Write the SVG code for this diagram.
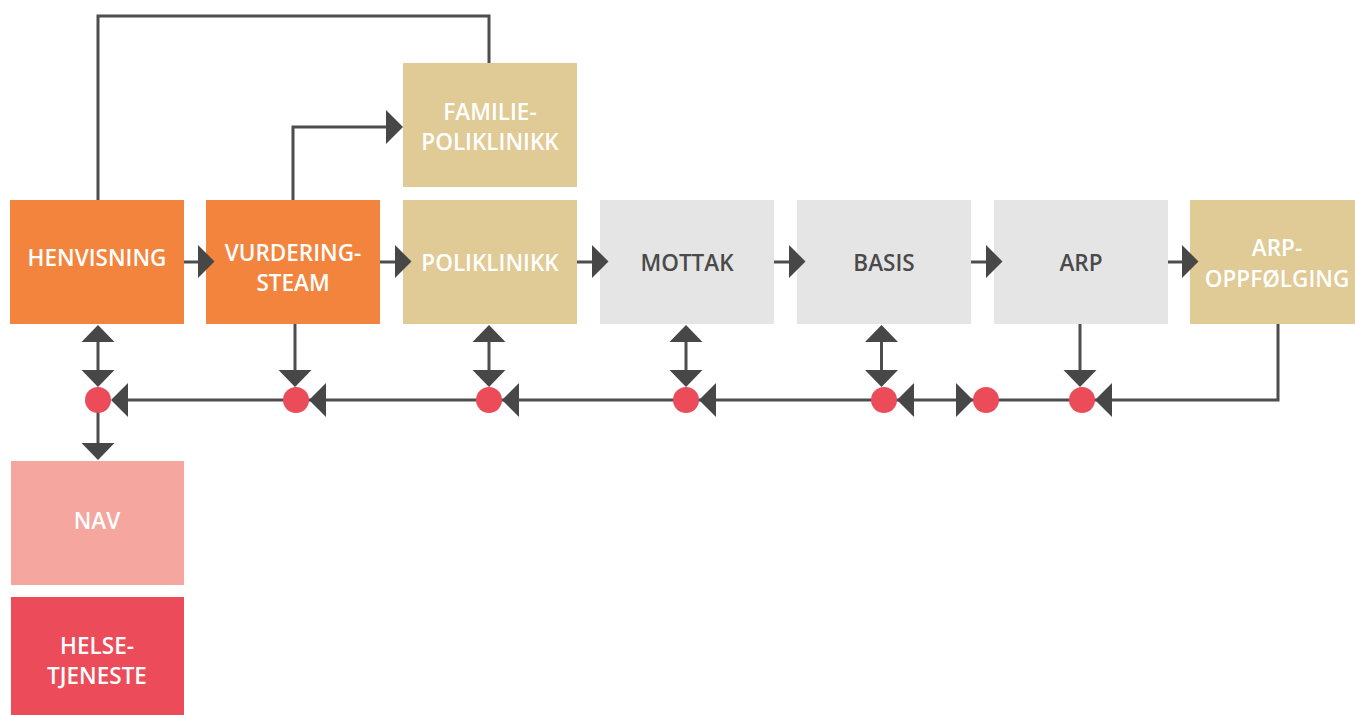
<svg xmlns="http://www.w3.org/2000/svg" width="1355" height="715" viewBox="0 0 1355 715">
<style>
.orange{fill:#F2843E}
.tan{fill:#E0CA96}
.gray{fill:#E5E5E5}
.nav{fill:#F5A69E}
.helse{fill:#EC4B5A}
.t{font-family:"Open Sans","Noto Sans","Liberation Sans",sans-serif;font-weight:600;font-size:22.5px;text-anchor:middle;fill:#FFFFFF}
.d{fill:#4A4A4A}
.ln{fill:none;stroke:#4D4D4D;stroke-width:3}
.ah{fill:#474747}
.dot{fill:#EC4B5A}
</style>
<rect width="1355" height="715" fill="#FFFFFF"/>
<g id="henvisning">
<rect class="orange" x="10" y="200" width="174" height="124"/>
<text class="t" x="97" y="266">HENVISNING</text>
</g>
<g id="vurderingsteam">
<rect class="orange" x="206" y="200" width="174" height="124"/>
<text class="t" x="293" y="261">VURDERING-</text>
<text class="t" x="293" y="291">STEAM</text>
</g>
<g id="familiepoliklinikk">
<rect class="tan" x="403" y="63" width="174" height="124"/>
<text class="t" x="490" y="120">FAMILIE-</text>
<text class="t" x="490" y="150">POLIKLINIKK</text>
</g>
<g id="poliklinikk">
<rect class="tan" x="403" y="200" width="174" height="124"/>
<text class="t" x="490" y="271">POLIKLINIKK</text>
</g>
<g id="mottak">
<rect class="gray" x="600" y="200" width="174" height="124"/>
<text class="t d" x="687" y="271">MOTTAK</text>
</g>
<g id="basis">
<rect class="gray" x="797" y="200" width="174" height="124"/>
<text class="t d" x="884" y="271">BASIS</text>
</g>
<g id="arp">
<rect class="gray" x="994" y="200" width="174" height="124"/>
<text class="t d" x="1081" y="271">ARP</text>
</g>
<g id="arpoppfolging">
<rect class="tan" x="1190" y="200" width="165" height="124"/>
<text class="t" x="1277" y="256">ARP-</text>
<text class="t" x="1277" y="287">OPPFØLGING</text>
</g>
<g id="nav">
<rect class="nav" x="11" y="461" width="173" height="124"/>
<text class="t" x="97" y="529">NAV</text>
</g>
<g id="helsetjeneste">
<rect class="helse" x="11" y="597" width="173" height="118"/>
<text class="t" x="97" y="654">HELSE-</text>
<text class="t" x="97" y="684">TJENESTE</text>
</g>
<g id="connectors">
<polyline class="ln" points="98,200 98,16 489,16 489,63"/>
<polyline class="ln" points="293,200 293,127 387,127"/>
<polygon class="ah" points="386,110 386,144 403,127"/>
<line class="ln" x1="184" y1="262" x2="199" y2="262"/>
<polygon class="ah" points="198,245 198,278 214.5,261.5"/>
<line class="ln" x1="380" y1="262" x2="396" y2="262"/>
<polygon class="ah" points="395,245 395,278 411.5,261.5"/>
<line class="ln" x1="577" y1="262" x2="593" y2="262"/>
<polygon class="ah" points="592,245 592,278 608.5,261.5"/>
<line class="ln" x1="774" y1="262" x2="790" y2="262"/>
<polygon class="ah" points="789,245 789,278 805.5,261.5"/>
<line class="ln" x1="971" y1="262" x2="987" y2="262"/>
<polygon class="ah" points="986,245 986,278 1002.5,261.5"/>
<line class="ln" x1="1168" y1="262" x2="1183" y2="262"/>
<polygon class="ah" points="1182,245 1182,278 1198.5,261.5"/>
<polyline class="ln" points="1278,324 1278,400 120,400"/>
<line class="ln" x1="98" y1="340" x2="98" y2="372"/>
<polygon class="ah" points="98,325 81.5,342 114.5,342"/>
<polygon class="ah" points="81.5,370 114.5,370 98,387"/>
<line class="ln" x1="98" y1="400" x2="98" y2="444"/>
<polygon class="ah" points="81.5,443 114.5,443 98,460"/>
<line class="ln" x1="295" y1="324" x2="295" y2="372"/>
<polygon class="ah" points="278.5,370 311.5,370 295,387"/>
<line class="ln" x1="489" y1="340" x2="489" y2="372"/>
<polygon class="ah" points="489,325 472.5,342 505.5,342"/>
<polygon class="ah" points="472.5,370 505.5,370 489,387"/>
<line class="ln" x1="686" y1="340" x2="686" y2="372"/>
<polygon class="ah" points="686,325 669.5,342 702.5,342"/>
<polygon class="ah" points="669.5,370 702.5,370 686,387"/>
<line class="ln" x1="881.5" y1="340" x2="881.5" y2="372"/>
<polygon class="ah" points="881.5,325 865,342 898,342"/>
<polygon class="ah" points="865,370 898,370 881.5,387"/>
<line class="ln" x1="1080" y1="324" x2="1080" y2="372"/>
<polygon class="ah" points="1063.5,370 1096.5,370 1080,387"/>
<polygon class="ah" points="111,400 128,383 128,417"/>
<polygon class="ah" points="309,400 326,383 326,417"/>
<polygon class="ah" points="502,400 519,383 519,417"/>
<polygon class="ah" points="699,400 716,383 716,417"/>
<polygon class="ah" points="897,400 914,383 914,417"/>
<polygon class="ah" points="973,400 956,383 956,417"/>
<polygon class="ah" points="1095,400 1112,383 1112,417"/>
<circle class="dot" cx="98" cy="400" r="13"/>
<circle class="dot" cx="296" cy="400" r="13"/>
<circle class="dot" cx="489" cy="400" r="13"/>
<circle class="dot" cx="686" cy="400" r="13"/>
<circle class="dot" cx="884" cy="400" r="13"/>
<circle class="dot" cx="986" cy="400" r="13"/>
<circle class="dot" cx="1082" cy="400" r="13"/>
</g>
</svg>
